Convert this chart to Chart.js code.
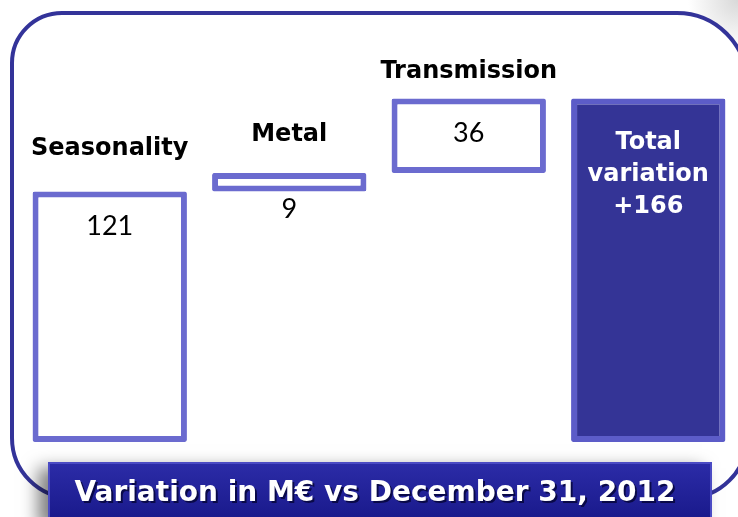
<!DOCTYPE html>
<html>
<head>
<meta charset="utf-8">
<script src="https://cdn.jsdelivr.net/npm/chart.js@4/dist/chart.umd.min.js"></script>
<style>
  html, body { margin: 0; padding: 0; background: #fff; }
  #wrap { width: 738px; height: 517px; }
</style>
</head>
<body>
<div id="wrap"><canvas id="myChart" width="738" height="517"></canvas></div>
<script>
  const labels = ['Seasonality', 'Metal', 'Transmission', 'Total'];
  const steps = [121, 9, 36];
  const total = 166;
  const totalLines = ['Total', 'variation', '+166'];
  const footer = 'Variation in M€ vs December 31, 2012';

  // waterfall: each step floats on top of the running sum, total goes from zero
  const ranges = [];
  let running = 0;
  steps.forEach(v => {
    ranges.push([running, running + v]);
    running += v;
  });
  ranges.push([0, total]);

  const shown = steps.concat([total]);

  const frame = {
    id: 'frame',
    beforeDraw(chart) {
      const ctx = chart.ctx;
      ctx.save();
      ctx.fillStyle = '#fff';
      ctx.fillRect(0, 0, chart.width, chart.height);
      // soft grey corner shade
      const g = ctx.createRadialGradient(738, 0, 0, 738, 0, 50);
      g.addColorStop(0, 'rgba(200,200,200,0.7)');
      g.addColorStop(1, 'rgba(200,200,200,0)');
      ctx.fillStyle = g;
      ctx.fillRect(680, 0, 58, 50);
      ctx.beginPath();
      ctx.roundRect(12, 13, 735, 485, [50, 70, 60, 60]);
      ctx.fillStyle = '#fff';
      ctx.fill();
      ctx.lineWidth = 4;
      ctx.strokeStyle = '#333399';
      ctx.stroke();
      ctx.restore();
    },
    afterDraw(chart) {
      const ctx = chart.ctx;
      ctx.save();
      // footer banner
      ctx.shadowColor = 'rgba(0,0,0,0.5)';
      ctx.shadowBlur = 16;
      ctx.shadowOffsetX = -10;
      ctx.shadowOffsetY = 6;
      const g = ctx.createLinearGradient(0, 462, 0, 517);
      g.addColorStop(0, '#2c2ca8');
      g.addColorStop(1, '#1a1a8c');
      ctx.fillStyle = g;
      ctx.fillRect(48, 462, 664, 60);
      ctx.shadowColor = 'transparent';
      ctx.lineWidth = 2;
      ctx.strokeStyle = '#4b4bc4';
      ctx.strokeRect(49, 463, 662, 60);
      ctx.font = 'bold 28px "DejaVu Sans"';
      ctx.textAlign = 'center';
      ctx.textBaseline = 'middle';
      ctx.fillStyle = 'rgba(0,0,40,0.7)';
      ctx.fillText(footer, 377, 496);
      ctx.fillStyle = '#fff';
      ctx.fillText(footer, 375, 494);
      ctx.restore();
    }
  };

  // gap between bar top and the category name above it
  const nameGap = [43, 38, 27];

  const barText = {
    id: 'barText',
    afterDatasetsDraw(chart) {
      const ctx = chart.ctx;
      const bars = chart.getDatasetMeta(0).data;
      ctx.save();
      ctx.textAlign = 'center';
      ctx.textBaseline = 'middle';
      bars.forEach((bar, i) => {
        const top = Math.min(bar.y, bar.base);
        const bottom = Math.max(bar.y, bar.base);
        if (i < steps.length) {
          ctx.fillStyle = '#000';
          ctx.font = 'bold 24px "DejaVu Sans"';
          ctx.fillText(labels[i], bar.x, top - nameGap[i]);
          ctx.font = '27px Lato';
          const y = bottom - top < 50 ? bottom + 18 : top + 35;
          ctx.fillText(String(shown[i]), bar.x, y);
        } else {
          ctx.fillStyle = '#fff';
          ctx.font = 'bold 24px "DejaVu Sans"';
          totalLines.forEach((t, k) => ctx.fillText(t, bar.x, top + 44 + k * 32));
        }
      });
      ctx.restore();
    }
  };

  const data = {
    labels: labels,
    datasets: [{
      data: ranges,
      backgroundColor: ['#fff', '#fff', '#fff', '#343496'],
      borderColor: ['#6b6bcf', '#6b6bcf', '#6b6bcf', '#5c5cc8'],
      borderWidth: 6,
      borderRadius: 2,
      borderSkipped: false,
      barPercentage: 0.86,
      categoryPercentage: 1
    }]
  };

  const config = {
    type: 'bar',
    data: data,
    options: {
      responsive: false,
      animation: false,
      layout: {
        padding: { left: 20, right: 0, top: 28, bottom: 75 }
      },
      plugins: {
        legend: { display: false },
        tooltip: { enabled: false }
      },
      scales: {
        x: { display: false },
        y: { display: false, min: 0, max: 200 }
      }
    },
    plugins: [frame, barText]
  };

  const myChart = new Chart(
    document.getElementById('myChart'),
    config
  );
</script>
</body>
</html>
